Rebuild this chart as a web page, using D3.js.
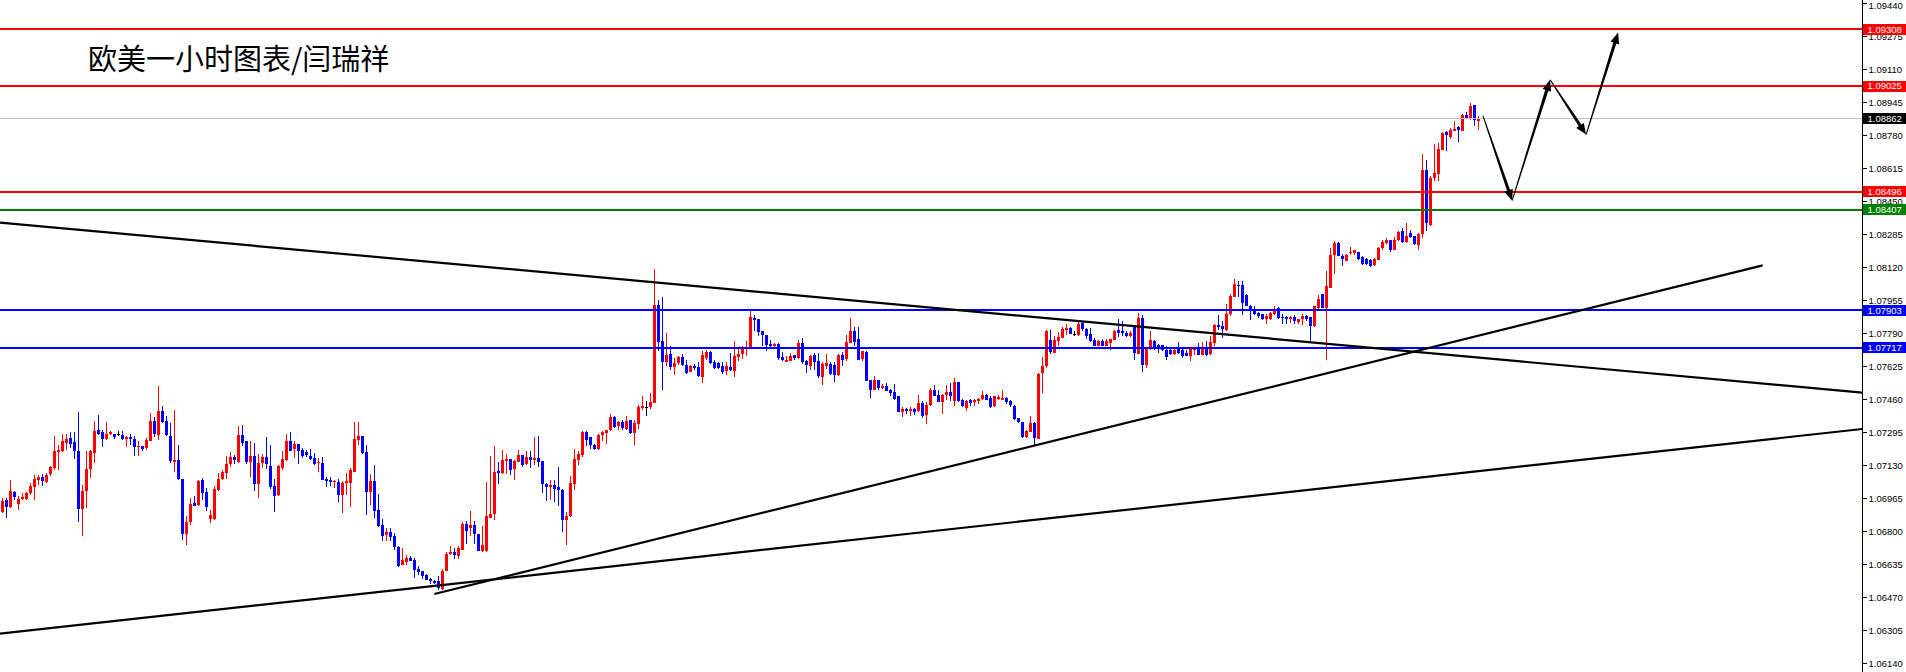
<!DOCTYPE html>
<html><head><meta charset="utf-8">
<script src="https://cdn.jsdelivr.net/npm/d3@7"></script>
<style>html,body{margin:0;padding:0;background:#fff;overflow:hidden}</style>
</head><body>
<svg id="c" width="1906" height="672"></svg>
<script>
const title = "欧美一小时图表/闫瑞祥";
const opens = [
1.06895,1.06957,1.06924,1.06995,1.06939,1.06960,1.06962,1.06990,1.07024,1.07052,
1.07069,1.07049,1.07082,1.07115,1.07195,1.07204,1.07244,1.07265,1.07244,1.07199,
1.06907,1.06999,1.07110,1.07194,1.07307,1.07295,1.07262,1.07285,1.07287,1.07286,
1.07282,1.07260,1.07269,1.07260,1.07219,1.07227,1.07212,1.07249,1.07349,1.07282,
1.07402,1.07352,1.07274,1.07149,1.07157,1.07062,1.06787,1.06847,1.06942,1.06930,
1.07054,1.06994,1.06860,1.06862,1.07007,1.07060,1.07090,1.07135,1.07169,1.07149,
1.07282,1.07249,1.07144,1.07174,1.07037,1.07140,1.07169,1.07127,1.07027,1.06977,
1.07117,1.07157,1.07252,1.07210,1.07237,1.07204,1.07194,1.07177,1.07165,1.07140,
1.07140,1.07062,1.07057,1.07045,1.07045,1.06982,1.07040,1.07040,1.07099,1.07257,
1.07277,1.07194,1.06994,1.07049,1.06907,1.06832,1.06779,1.06795,1.06774,1.06719,
1.06632,1.06644,1.06665,1.06657,1.06612,1.06602,1.06582,1.06560,1.06552,1.06549,
1.06510,1.06602,1.06685,1.06694,1.06677,1.06707,1.06837,1.06812,1.06829,1.06787,
1.06704,1.06699,1.06869,1.06882,1.07099,1.07094,1.07154,1.07162,1.07107,1.07149,
1.07182,1.07137,1.07170,1.07154,1.07165,1.07149,1.07037,1.07024,1.07032,1.07019,
1.07007,1.06857,1.06874,1.07037,1.07157,1.07182,1.07295,1.07269,1.07229,1.07210,
1.07279,1.07290,1.07304,1.07369,1.07324,1.07344,1.07314,1.07354,1.07290,1.07335,
1.07414,1.07420,1.07419,1.07440,1.07932,1.07752,1.07648,1.07686,1.07623,1.07637,
1.07668,1.07632,1.07595,1.07623,1.07618,1.07573,1.07665,1.07693,1.07643,1.07640,
1.07623,1.07598,1.07618,1.07603,1.07673,1.07686,1.07712,1.07712,1.07865,1.07860,
1.07798,1.07782,1.07737,1.07728,1.07737,1.07668,1.07648,1.07653,1.07678,1.07665,
1.07740,1.07648,1.07628,1.07681,1.07648,1.07573,1.07623,1.07637,1.07632,1.07582,
1.07681,1.07657,1.07743,1.07802,1.07760,1.07657,1.07695,1.07557,1.07507,1.07557,
1.07515,1.07527,1.07507,1.07493,1.07473,1.07393,1.07410,1.07402,1.07412,1.07398,
1.07440,1.07382,1.07432,1.07507,1.07482,1.07448,1.07478,1.07495,1.07448,1.07543,
1.07457,1.07415,1.07453,1.07443,1.07452,1.07460,1.07482,1.07465,1.07423,1.07462,
1.07457,1.07465,1.07448,1.07427,1.07365,1.07343,1.07270,1.07295,1.07340,1.07260,
1.07587,1.07623,1.07753,1.07693,1.07748,1.07768,1.07807,1.07815,1.07785,1.07782,
1.07840,1.07812,1.07787,1.07757,1.07728,1.07752,1.07728,1.07740,1.07757,1.07807,
1.07798,1.07790,1.07773,1.07828,1.07687,1.07865,1.07628,1.07715,1.07748,1.07732,
1.07732,1.07707,1.07707,1.07686,1.07715,1.07707,1.07690,1.07677,1.07703,1.07710,
1.07681,1.07715,1.07681,1.07740,1.07832,1.07823,1.07803,1.07882,1.07973,1.08032,
1.08032,1.07982,1.07927,1.07902,1.07890,1.07885,1.07860,1.07860,1.07887,1.07915,
1.07870,1.07868,1.07860,1.07868,1.07843,1.07857,1.07873,1.07868,1.07823,1.07915,
1.07985,1.07915,1.08015,1.08182,1.08240,1.08173,1.08153,1.08187,1.08187,1.08193,
1.08170,1.08160,1.08157,1.08132,1.08157,1.08212,1.08240,1.08253,1.08207,1.08253,
1.08298,1.08245,1.08290,1.08273,1.08232,1.08282,1.08603,1.08332,1.08565,1.08587,
1.08707,1.08793,1.08773,1.08802,1.08818,1.08802,1.08878,1.08865,1.08928,1.08853];
const highs = [
1.06965,1.06965,1.07057,1.07002,1.06977,1.06990,1.06994,1.07040,1.07082,1.07082,
1.07085,1.07090,1.07124,1.07274,1.07232,1.07287,1.07287,1.07294,1.07294,1.07394,
1.07032,1.07199,1.07207,1.07349,1.07382,1.07307,1.07344,1.07302,1.07287,1.07299,
1.07299,1.07277,1.07287,1.07274,1.07249,1.07227,1.07265,1.07390,1.07370,1.07524,
1.07427,1.07374,1.07340,1.07404,1.07232,1.07062,1.06877,1.06965,1.06974,1.07057,
1.07065,1.07015,1.06907,1.07024,1.07090,1.07107,1.07174,1.07194,1.07182,1.07327,
1.07332,1.07252,1.07249,1.07240,1.07187,1.07187,1.07269,1.07232,1.07060,1.07132,
1.07202,1.07287,1.07294,1.07249,1.07237,1.07215,1.07207,1.07212,1.07190,1.07165,
1.07170,1.07069,1.07069,1.07054,1.07062,1.07049,1.07090,1.07115,1.07344,1.07347,
1.07277,1.07232,1.07085,1.07132,1.06987,1.06860,1.06815,1.06815,1.06790,1.06727,
1.06715,1.06682,1.06674,1.06665,1.06627,1.06602,1.06585,1.06565,1.06557,1.06574,
1.06610,1.06694,1.06727,1.06715,1.06724,1.06844,1.06849,1.06902,1.06849,1.06787,
1.06824,1.07044,1.07177,1.07224,1.07144,1.07204,1.07187,1.07162,1.07157,1.07204,
1.07182,1.07199,1.07199,1.07269,1.07277,1.07149,1.07040,1.07054,1.07054,1.07119,
1.07010,1.06894,1.07077,1.07210,1.07199,1.07299,1.07299,1.07269,1.07235,1.07287,
1.07299,1.07307,1.07387,1.07374,1.07349,1.07357,1.07374,1.07357,1.07357,1.07432,
1.07474,1.07449,1.07490,1.08110,1.07957,1.07970,1.07792,1.07723,1.07667,1.07677,
1.07687,1.07657,1.07632,1.07637,1.07643,1.07698,1.07703,1.07698,1.07657,1.07643,
1.07645,1.07643,1.07690,1.07752,1.07715,1.07723,1.07752,1.07898,1.07882,1.07860,
1.07798,1.07782,1.07757,1.07740,1.07740,1.07693,1.07677,1.07690,1.07678,1.07757,
1.07765,1.07657,1.07681,1.07690,1.07690,1.07643,1.07686,1.07643,1.07643,1.07686,
1.07693,1.07782,1.07865,1.07820,1.07820,1.07698,1.07698,1.07557,1.07573,1.07557,
1.07537,1.07540,1.07512,1.07537,1.07477,1.07420,1.07415,1.07420,1.07415,1.07482,
1.07448,1.07443,1.07515,1.07532,1.07507,1.07487,1.07532,1.07540,1.07565,1.07543,
1.07460,1.07457,1.07460,1.07462,1.07465,1.07498,1.07487,1.07477,1.07477,1.07482,
1.07507,1.07470,1.07457,1.07432,1.07365,1.07343,1.07303,1.07377,1.07343,1.07590,
1.07668,1.07807,1.07807,1.07773,1.07795,1.07818,1.07835,1.07820,1.07798,1.07843,
1.07848,1.07815,1.07815,1.07765,1.07757,1.07760,1.07760,1.07762,1.07807,1.07860,
1.07852,1.07798,1.07798,1.07828,1.07890,1.07882,1.07715,1.07798,1.07757,1.07735,
1.07732,1.07727,1.07715,1.07715,1.07745,1.07715,1.07707,1.07715,1.07715,1.07740,
1.07743,1.07752,1.07777,1.07837,1.07882,1.07852,1.07935,1.07987,1.08062,1.08048,
1.08048,1.07985,1.07932,1.07923,1.07893,1.07887,1.07887,1.07893,1.07927,1.07918,
1.07887,1.07873,1.07873,1.07882,1.07860,1.07885,1.07878,1.07868,1.07927,1.07982,
1.07985,1.08098,1.08215,1.08248,1.08243,1.08187,1.08187,1.08218,1.08207,1.08193,
1.08173,1.08163,1.08162,1.08165,1.08220,1.08257,1.08265,1.08253,1.08270,1.08298,
1.08315,1.08340,1.08303,1.08277,1.08290,1.08687,1.08653,1.08577,1.08737,1.08740,
1.08793,1.08798,1.08815,1.08852,1.08827,1.08887,1.08893,1.08940,1.08932,1.08873];
const lows = [
1.06890,1.06864,1.06914,1.06957,1.06907,1.06954,1.06957,1.06982,1.06957,1.07032,
1.07024,1.07040,1.07074,1.07104,1.07104,1.07194,1.07204,1.07215,1.07160,1.06844,
1.06774,1.06915,1.07065,1.07140,1.07282,1.07219,1.07257,1.07279,1.07260,1.07274,
1.07254,1.07220,1.07229,1.07174,1.07174,1.07199,1.07207,1.07249,1.07270,1.07257,
1.07340,1.07274,1.07140,1.07094,1.07054,1.06754,1.06729,1.06830,1.06924,1.06924,
1.06957,1.06899,1.06840,1.06854,1.06999,1.07054,1.07062,1.07120,1.07137,1.07140,
1.07227,1.07137,1.07069,1.07002,1.06964,1.07114,1.07110,1.07010,1.06894,1.06977,
1.07107,1.07152,1.07199,1.07165,1.07137,1.07165,1.07169,1.07157,1.07132,1.07094,
1.07054,1.07019,1.07027,1.07015,1.06944,1.06890,1.06982,1.06919,1.07099,1.07232,
1.07187,1.06882,1.06932,1.06865,1.06822,1.06749,1.06749,1.06749,1.06707,1.06619,
1.06632,1.06632,1.06649,1.06565,1.06582,1.06562,1.06554,1.06537,1.06537,1.06504,
1.06507,1.06602,1.06679,1.06660,1.06660,1.06707,1.06737,1.06774,1.06737,1.06699,
1.06694,1.06694,1.06865,1.06854,1.07037,1.07087,1.07087,1.07082,1.07057,1.07144,
1.07119,1.07132,1.07114,1.07132,1.07119,1.06990,1.06949,1.06957,1.06944,1.06924,
1.06794,1.06732,1.06870,1.07007,1.07132,1.07170,1.07224,1.07212,1.07204,1.07207,
1.07249,1.07235,1.07299,1.07315,1.07304,1.07307,1.07307,1.07287,1.07232,1.07312,
1.07407,1.07377,1.07412,1.07440,1.07698,1.07503,1.07627,1.07607,1.07578,1.07632,
1.07627,1.07587,1.07593,1.07603,1.07570,1.07540,1.07657,1.07637,1.07612,1.07610,
1.07587,1.07578,1.07598,1.07568,1.07648,1.07662,1.07677,1.07710,1.07798,1.07773,
1.07727,1.07698,1.07715,1.07710,1.07657,1.07648,1.07643,1.07648,1.07657,1.07660,
1.07637,1.07590,1.07607,1.07607,1.07565,1.07532,1.07612,1.07582,1.07543,1.07577,
1.07623,1.07648,1.07740,1.07727,1.07653,1.07648,1.07548,1.07465,1.07503,1.07507,
1.07512,1.07498,1.07473,1.07457,1.07393,1.07370,1.07387,1.07377,1.07382,1.07393,
1.07365,1.07337,1.07427,1.07473,1.07445,1.07387,1.07457,1.07448,1.07427,1.07443,
1.07420,1.07398,1.07423,1.07427,1.07437,1.07457,1.07453,1.07415,1.07420,1.07457,
1.07457,1.07437,1.07420,1.07353,1.07340,1.07267,1.07265,1.07293,1.07232,1.07260,
1.07490,1.07615,1.07687,1.07690,1.07723,1.07763,1.07782,1.07783,1.07773,1.07777,
1.07802,1.07760,1.07747,1.07723,1.07723,1.07723,1.07723,1.07703,1.07753,1.07770,
1.07773,1.07770,1.07770,1.07653,1.07687,1.07593,1.07615,1.07707,1.07707,1.07690,
1.07702,1.07657,1.07678,1.07681,1.07687,1.07665,1.07673,1.07648,1.07681,1.07678,
1.07678,1.07673,1.07678,1.07723,1.07807,1.07765,1.07798,1.07877,1.07970,1.07970,
1.07882,1.07923,1.07857,1.07882,1.07865,1.07853,1.07835,1.07853,1.07882,1.07860,
1.07837,1.07837,1.07840,1.07837,1.07835,1.07832,1.07848,1.07740,1.07820,1.07907,
1.07913,1.07657,1.08015,1.08087,1.08173,1.08123,1.08148,1.08182,1.08182,1.08153,
1.08132,1.08132,1.08120,1.08123,1.08153,1.08207,1.08237,1.08193,1.08203,1.08248,
1.08240,1.08240,1.08265,1.08228,1.08207,1.08265,1.08302,1.08327,1.08548,1.08548,
1.08703,1.08698,1.08762,1.08798,1.08743,1.08798,1.08860,1.08853,1.08827,1.08803];
const closes = [
1.06952,1.06924,1.07002,1.06972,1.06962,1.06970,1.06990,1.07027,1.07062,1.07069,
1.07049,1.07082,1.07119,1.07199,1.07204,1.07252,1.07262,1.07237,1.07199,1.06907,
1.06999,1.07110,1.07199,1.07302,1.07287,1.07262,1.07287,1.07294,1.07274,1.07287,
1.07260,1.07269,1.07257,1.07219,1.07224,1.07210,1.07254,1.07349,1.07285,1.07402,
1.07349,1.07282,1.07149,1.07157,1.07062,1.06787,1.06847,1.06937,1.06927,1.07049,
1.06990,1.06919,1.06882,1.07010,1.07062,1.07094,1.07137,1.07169,1.07154,1.07282,
1.07244,1.07144,1.07174,1.07032,1.07140,1.07169,1.07132,1.07020,1.06977,1.07124,
1.07160,1.07252,1.07204,1.07237,1.07202,1.07174,1.07177,1.07162,1.07137,1.07144,
1.07057,1.07054,1.07045,1.07049,1.06982,1.07040,1.07049,1.07107,1.07262,1.07277,
1.07194,1.06994,1.07049,1.06899,1.06827,1.06779,1.06795,1.06769,1.06719,1.06624,
1.06657,1.06665,1.06652,1.06607,1.06595,1.06577,1.06557,1.06549,1.06540,1.06515,
1.06602,1.06687,1.06694,1.06677,1.06715,1.06837,1.06804,1.06829,1.06782,1.06702,
1.06732,1.06874,1.06887,1.07094,1.07087,1.07157,1.07162,1.07107,1.07149,1.07182,
1.07132,1.07170,1.07154,1.07165,1.07144,1.07032,1.07024,1.07032,1.07012,1.07002,
1.06857,1.06877,1.07040,1.07162,1.07187,1.07295,1.07257,1.07227,1.07207,1.07282,
1.07295,1.07307,1.07369,1.07320,1.07344,1.07314,1.07352,1.07290,1.07340,1.07419,
1.07424,1.07421,1.07445,1.07932,1.07748,1.07648,1.07681,1.07623,1.07642,1.07668,
1.07628,1.07590,1.07623,1.07612,1.07573,1.07681,1.07693,1.07640,1.07615,1.07615,
1.07595,1.07623,1.07603,1.07677,1.07686,1.07715,1.07718,1.07868,1.07853,1.07793,
1.07777,1.07732,1.07727,1.07737,1.07665,1.07653,1.07657,1.07677,1.07665,1.07740,
1.07643,1.07628,1.07677,1.07648,1.07573,1.07637,1.07640,1.07585,1.07582,1.07681,
1.07657,1.07743,1.07802,1.07748,1.07657,1.07698,1.07552,1.07507,1.07557,1.07515,
1.07527,1.07503,1.07490,1.07460,1.07393,1.07410,1.07398,1.07410,1.07398,1.07440,
1.07377,1.07432,1.07507,1.07477,1.07448,1.07482,1.07495,1.07477,1.07543,1.07448,
1.07427,1.07448,1.07440,1.07453,1.07462,1.07482,1.07457,1.07420,1.07473,1.07470,
1.07465,1.07445,1.07427,1.07362,1.07343,1.07270,1.07298,1.07340,1.07265,1.07587,
1.07623,1.07798,1.07693,1.07757,1.07768,1.07812,1.07815,1.07785,1.07786,1.07837,
1.07810,1.07777,1.07753,1.07728,1.07752,1.07728,1.07752,1.07762,1.07802,1.07790,
1.07787,1.07773,1.07790,1.07687,1.07865,1.07628,1.07715,1.07753,1.07715,1.07715,
1.07707,1.07673,1.07686,1.07707,1.07690,1.07677,1.07677,1.07710,1.07710,1.07681,
1.07715,1.07681,1.07743,1.07832,1.07820,1.07807,1.07885,1.07973,1.08037,1.08027,
1.07943,1.07927,1.07907,1.07885,1.07873,1.07860,1.07873,1.07890,1.07910,1.07865,
1.07865,1.07860,1.07870,1.07848,1.07860,1.07873,1.07857,1.07823,1.07923,1.07962,
1.07915,1.08023,1.08182,1.08240,1.08177,1.08157,1.08182,1.08193,1.08203,1.08157,
1.08137,1.08137,1.08128,1.08162,1.08215,1.08243,1.08257,1.08202,1.08257,1.08295,
1.08243,1.08273,1.08270,1.08232,1.08287,1.08603,1.08337,1.08565,1.08590,1.08710,
1.08790,1.08777,1.08807,1.08810,1.08802,1.08882,1.08865,1.08927,1.08853,1.08862];

const tickLabels = ["1.09440","1.09275","1.09110","1.08945","1.08780","1.08615","1.08450",
  "1.08285","1.08120","1.07955","1.07790","1.07625","1.07460","1.07295","1.07130",
  "1.06965","1.06800","1.06635","1.06470","1.06305","1.06140"];
const redLevels = [1.09308, 1.09025, 1.08496];
const greenLevels = [1.08407];
const blueLevels = [1.07903, 1.07717];
const lastPrice = 1.08862;
// trend lines: [barIndex, price] endpoints
const trendLines = [
  [[-0.625, 1.08342], [464.9, 1.07492]],
  [[-0.625, 1.06287], [464.9, 1.07310]],
  [[107.95, 1.06485], [440.05, 1.08128]]
];
// projected path (bar index, price)
const pathIdx = [370.1, 377.4, 386.9, 395.9, 403.9];
const pathPrice = [1.08877, 1.08452, 1.09056, 1.08782, 1.09292];

const W = 1906, H = 672, axisX = 1862.5;
const n = closes.length;
const x = d3.scaleLinear().domain([0, n - 1]).range([2.5, 2.5 + 4 * (n - 1)]);
const y = d3.scaleLinear().domain([1.06140, 1.09440]).range([663, 3]);
const svg = d3.select('#c');
svg.append('rect').attr('width', W).attr('height', H).attr('fill', '#fff');
svg.append('defs').append('clipPath').attr('id', 'plot')
  .append('rect').attr('x', 0).attr('y', 0).attr('width', axisX).attr('height', H);
const plot = svg.append('g').attr('clip-path', 'url(#plot)');

// title
plot.append('text').attr('x', 88).attr('y', 70)
  .attr('font-family', '"Noto Sans CJK SC", sans-serif').attr('font-size', 29)
  .attr('fill', '#000').text(title);

// candles
const bars = d3.range(n).map(i => ({i, o: opens[i], h: highs[i], l: lows[i], c: closes[i]}));
const col = d => Math.abs(d.c - d.o) < 0.000015 ? '#000' : (d.c > d.o ? '#ff0000' : '#0000ff');
const cg = plot.append('g').attr('shape-rendering', 'crispEdges');
cg.selectAll('line.w').data(bars).join('line')
  .attr('x1', d => x(d.i)).attr('x2', d => x(d.i))
  .attr('y1', d => y(d.h)).attr('y2', d => y(d.l))
  .attr('stroke', col).attr('stroke-width', 1);
cg.selectAll('rect.b').data(bars).join('rect')
  .attr('x', d => x(d.i) - 1.5).attr('width', 3)
  .attr('y', d => Math.round(y(Math.max(d.o, d.c))))
  .attr('height', d => Math.max(1, Math.round(Math.abs(y(d.o) - y(d.c)))))
  .attr('fill', col);

// horizontal levels
const hg = plot.append('g').attr('shape-rendering', 'crispEdges');
function hline(p, color, w) {
  hg.append('line').attr('x1', 0).attr('x2', axisX).attr('y1', y(p)).attr('y2', y(p))
    .attr('stroke', color).attr('stroke-width', w);
}
hline(lastPrice, '#c0c0c0', 1);
redLevels.forEach(p => hline(p, '#ff0000', 2));
greenLevels.forEach(p => hline(p, '#008000', 2));
blueLevels.forEach(p => hline(p, '#0000ff', 2));

// trend lines
plot.selectAll('line.t').data(trendLines).join('line')
  .attr('x1', d => x(d[0][0])).attr('y1', d => y(d[0][1]))
  .attr('x2', d => x(d[1][0])).attr('y2', d => y(d[1][1]))
  .attr('stroke', '#000').attr('stroke-width', 2.2);

// projected zigzag arrows (tapered)
function arrow(ax, ay, bx, by, w0, w1) {
  const dx = bx - ax, dy = by - ay, L = Math.hypot(dx, dy);
  const ux = dx / L, uy = dy / L, nx = -uy, ny = ux;
  const hl = 11, hw = 4.5;
  const cx = bx - ux * hl, cy = by - uy * hl;
  const pts = [
    [ax + nx * w0 / 2, ay + ny * w0 / 2],
    [cx + nx * w1 / 2, cy + ny * w1 / 2],
    [cx + nx * hw, cy + ny * hw],
    [bx, by],
    [cx - nx * hw, cy - ny * hw],
    [cx - nx * w1 / 2, cy - ny * w1 / 2],
    [ax - nx * w0 / 2, ay - ny * w0 / 2]
  ];
  plot.append('path').attr('d', d3.line()(pts) + 'Z').attr('fill', '#000');
}
for (let k = 0; k < pathIdx.length - 1; k++) {
  arrow(x(pathIdx[k]), y(pathPrice[k]), x(pathIdx[k + 1]), y(pathPrice[k + 1]), 1, 3.2);
}

// axis
const ag = svg.append('g').attr('transform', `translate(${axisX},0)`);
ag.append('line').attr('x1', 0).attr('x2', 0).attr('y1', 0).attr('y2', H)
  .attr('stroke', '#000').attr('stroke-width', 1).attr('shape-rendering', 'crispEdges');
const axis = d3.axisRight(y).tickValues(tickLabels.map(Number)).tickSize(4).tickPadding(2)
  .tickFormat(d3.format('.5f'));
ag.call(axis);
ag.select('.domain').remove();
ag.selectAll('.tick line').attr('stroke', '#000').attr('shape-rendering', 'crispEdges');
ag.selectAll('.tick text').attr('font-family', '"Liberation Sans", Arial, sans-serif')
  .attr('font-size', 9.5).attr('fill', '#000');
// keep the top-most label inside the picture
ag.selectAll('.tick text').filter(d => d === d3.max(tickLabels.map(Number))).attr('dy', '0.55em');

// price labels
function tag(p, color) {
  const g = svg.append('g');
  g.append('rect').attr('x', axisX + 0.5).attr('y', y(p) - 5.5).attr('width', W - axisX).attr('height', 11)
    .attr('fill', color).attr('shape-rendering', 'crispEdges');
  g.append('text').attr('x', axisX + 5).attr('y', y(p)).attr('dy', '0.35em')
    .attr('font-family', '"Liberation Sans", Arial, sans-serif').attr('font-size', 9.5)
    .attr('fill', '#fff').text(d3.format('.5f')(p));
}
redLevels.forEach(p => tag(p, '#ff0000'));
greenLevels.forEach(p => tag(p, '#008000'));
blueLevels.forEach(p => tag(p, '#0000ff'));
tag(lastPrice, '#000');
</script>
</body></html>
